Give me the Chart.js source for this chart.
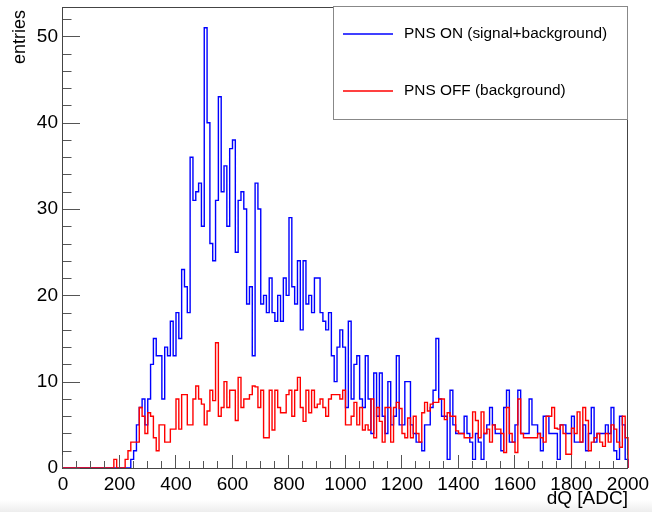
<!DOCTYPE html>
<html><head><meta charset="utf-8">
<script src="https://cdn.jsdelivr.net/npm/chart.js@4"></script>
<style>html,body{margin:0;padding:0;background:#fff;}#wrap{width:652px;height:512px;position:relative;}</style>
</head><body><div id="wrap"><canvas id="c" width="652" height="512"></canvas></div>
<script>
// ---- data ----
const binLow = 0;
const binWidth = 10;
const xTickLabels = ['0','200','400','600','800','1000','1200','1400','1600','1800','2000'];
const yTickLabels = ['0','10','20','30','40','50'];
const seriesNames = ['PNS ON (signal+background)', 'PNS OFF (background)'];
const xTitle = 'dQ [ADC]';
const yTitle = 'entries';

const pnsOn = [
  0,0,0,0,0,0,0,0,0,0,
  0,0,0,0,0,0,0,0,0,0,
  0,0,0,0,1,2,5,7,8,5,
  8,12,15,13,13,8,14,13,17,13,
  18,15,23,21,18,36,31,32,33,28,
  51,40,26,24,31,43,32,35,28,37,
  38,25,31,32,30,19,21,13,33,30,
  19,20,18,22,18,17,20,17,22,20,
  29,21,19,24,16,24,19,20,18,22,
  22,18,17,16,18,13,10,14,16,14,
  7,17,8,12,13,8,7,13,8,4,
  11,6,11,6,4,10,5,6,13,5,
  5,10,10,5,4,3,3,2,5,5,
  7,9,15,8,6,6,1,9,5,4,
  4,4,6,4,3,1,4,3,1,4,
  5,7,5,4,4,2,7,9,3,3,
  5,9,4,4,4,8,5,5,4,2,
  6,6,4,4,4,1,5,5,4,4,
  6,3,3,3,5,2,4,7,3,4,
  4,4,5,4,7,2,1,6,5,1
];
const pnsOff = [
  0,0,0,0,0,0,0,0,0,0,
  0,0,0,0,0,0,0,0,1,0,
  0,0,1,2,3,3,3,7,6,4,
  6.4,6,3.5,2,5,5,3,3,4.5,4.5,
  8,4.5,8.5,8.5,5,5,8,9.5,8,7.4,
  5,6.6,9,7.8,14.5,6,7,10,7,9,
  9,5.5,10.5,7,8,8,8.5,9.5,9.4,7,
  9,3.5,3.5,9,4.4,9,7,6.4,6.4,8.5,
  9,6,9,10.5,7,5.4,9,6.4,9,7,
  7.4,8,7,6,8,8.5,8.5,8.5,8,9,
  5,5,6,7.6,5,7,4.4,5,4.4,8,
  3.5,7,5.4,3,7,7,3,7,7.6,6.9,
  4,3.5,5.8,3.5,6,4,3,6.4,7.6,6.6,
  7.4,7.6,7.6,8,8,5.6,6.4,6,6,4.3,
  4,4,3.5,3.5,3.5,6.5,5.5,3.5,6.5,4,
  4.5,3,5,4.5,4.5,4,1.8,7,4,3,
  1.8,8,4,3.5,3.5,3.5,3.5,3.5,4,3.5,
  3,6,6,7,4.6,4.5,5,4,1.6,1.6,
  4.6,4,6.5,3,7,5.5,2,3,3.5,4,
  3,2.5,4,3,5,4.5,3,2.4,6,3.5
];

// ---- helpers ----
function histPoints(values) {
  const pts = values.map((v, i) => ({x: binLow + i * binWidth, y: v}));
  const xEnd = binLow + values.length * binWidth;
  pts.push({x: xEnd, y: values[values.length - 1]});
  pts.push({x: xEnd, y: 0});
  return pts;
}
const FONT = "'Liberation Sans', Arial, Helvetica, sans-serif";
const xMin = 0, xMax = 2000, xMajor = 200, xMinor = 50;
const yMin = 0, yMax = 53.4, yMajor = 10, yMinor = 2;
const colOn = '#0000ff', colOff = '#ff0000';

const decor = {
  id: 'decor',
  beforeDraw(chart) {
    const c = chart.ctx;
    c.save();
    c.fillStyle = '#fff';
    c.fillRect(0, 0, chart.width, chart.height);
    const g = c.createLinearGradient(0, 500, 0, 512);
    g.addColorStop(0, 'rgba(0,0,0,0)');
    g.addColorStop(1, 'rgba(0,0,0,0.07)');
    c.fillStyle = g;
    c.fillRect(0, 500, chart.width, 12);
    c.restore();
  },
  afterDraw(chart) {
    const c = chart.ctx, a = chart.chartArea;
    const xs = chart.scales.x, ys = chart.scales.y;
    c.save();
    // frame
    c.strokeStyle = '#444';
    c.lineWidth = 1;
    c.strokeRect(Math.round(a.left) - 0.5, Math.round(a.top) + 0.5, Math.round(a.right - a.left), Math.round(a.bottom - a.top));
    // x ticks (inward)
    c.strokeStyle = '#555';
    c.beginPath();
    for (let v = xMin; v <= xMax; v += xMinor) {
      const px = Math.round(xs.getPixelForValue(v)) - 0.5;
      const len = (v % xMajor === 0) ? 13 : 7;
      c.moveTo(px, a.bottom);
      c.lineTo(px, a.bottom - len);
    }
    // y ticks (inward)
    for (let v = yMin; v <= yMax; v += yMinor) {
      const py = Math.round(ys.getPixelForValue(v)) + 0.5;
      const len = (v % yMajor === 0) ? 17 : 8.5;
      c.moveTo(a.left, py);
      c.lineTo(a.left + len, py);
    }
    c.stroke();
    // axis titles
    c.fillStyle = '#000';
    c.font = '19px ' + FONT;
    c.textAlign = 'right';
    c.textBaseline = 'alphabetic';
    c.fillText(xTitle, a.right, 504);
    c.save();
    c.translate(25, a.top + 3);
    c.rotate(-Math.PI / 2);
    c.font = '18px ' + FONT;
    c.textAlign = 'right';
    c.fillText(yTitle, 0, 0);
    c.restore();
    // legend box
    const bx = 333, by = 6, bw = Math.round(a.right) - 333, bh = 113;
    c.fillStyle = '#fff';
    c.fillRect(bx, by, bw, bh);
    c.strokeStyle = '#888';
    c.strokeRect(bx + 0.5, by + 0.5, bw - 1, bh);
    const entries = [[seriesNames[0], colOn, 34], [seriesNames[1], colOff, 91]];
    c.font = '15.4px ' + FONT;
    c.textAlign = 'left';
    c.textBaseline = 'middle';
    entries.forEach(([t, col, y]) => {
      c.strokeStyle = col;
      c.lineWidth = 1.4;
      c.beginPath();
      c.moveTo(343, y);
      c.lineTo(393, y);
      c.stroke();
      c.fillStyle = '#000';
      c.fillText(t, 404, y);
    });
    c.restore();
  }
};

new Chart(document.getElementById('c'), {
  type: 'line',
  data: {
    datasets: [
      {label: seriesNames[1], data: histPoints(pnsOff), borderColor: colOff, borderWidth: 1.4,
       pointRadius: 0, stepped: 'before', fill: false, order: 0, clip: 4},
      {label: seriesNames[0], data: histPoints(pnsOn), borderColor: colOn, borderWidth: 1.4,
       pointRadius: 0, stepped: 'before', fill: false, order: 1, clip: 4}
    ]
  },
  options: {
    responsive: false, animation: false, events: [],
    layout: {padding: {top: 7, right: 24, left: 0, bottom: 0}},
    plugins: {legend: {display: false}, tooltip: {enabled: false}},
    scales: {
      x: {
        type: 'linear', min: xMin, max: xMax,
        grid: {display: false, drawTicks: false}, border: {display: false},
        ticks: {stepSize: xMajor, autoSkip: false, maxRotation: 0, includeBounds: false, padding: 5,
                color: '#000', font: {family: FONT, size: 19},
                callback: (v, i) => xTickLabels[i]},
        afterFit: s => { s.height = 44; s.paddingLeft = 0; s.paddingRight = 0; s.paddingTop = 0; s.paddingBottom = 0; }
      },
      y: {
        type: 'linear', min: yMin, max: yMax,
        grid: {display: false, drawTicks: false}, border: {display: false},
        ticks: {stepSize: yMajor, autoSkip: false, includeBounds: false, padding: 5,
                color: '#000', font: {family: FONT, size: 19},
                callback: (v, i) => yTickLabels[i]},
        afterFit: s => { s.width = 63; s.paddingLeft = 0; s.paddingRight = 0; s.paddingTop = 0; s.paddingBottom = 0; }
      }
    }
  },
  plugins: [decor]
});
</script>
</body></html>
